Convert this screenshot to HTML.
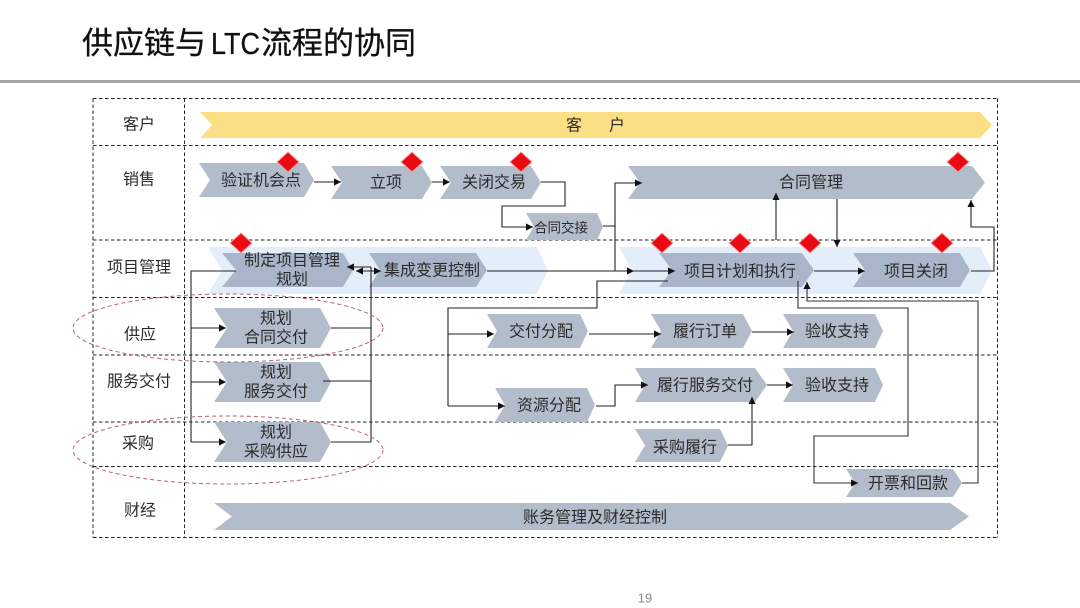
<!DOCTYPE html>
<html lang="zh-CN">
<head>
<meta charset="utf-8">
<title>供应链与LTC流程的协同</title>
<style>
html,body{margin:0;padding:0;background:#fff;width:1080px;height:608px;overflow:hidden}
svg{display:block;filter:blur(0.3px)}
text{font-family:"Liberation Sans","Noto Sans CJK SC",sans-serif;fill:#2b2b2b;font-size:16px;text-anchor:middle;dominant-baseline:central;transform:translateY(1px)}
.small{font-size:13.5px}
.grid line{stroke:#222;stroke-width:1;stroke-dasharray:3.5 2.5;fill:none}
.c{fill:#b3bccb}
.d{fill:#a9b6ca}
.l{fill:#e3eefa}
.k{fill:#ea0a14;stroke:#f7a0a0;stroke-width:1}
.w path{fill:none;stroke:#222;stroke-width:1.1}
.a{marker-end:url(#ar)}
</style>
</head>
<body>
<svg width="1080" height="608" viewBox="0 0 1080 608" xmlns="http://www.w3.org/2000/svg">
<defs>
<marker id="ar" markerUnits="userSpaceOnUse" markerWidth="8" markerHeight="8" refX="7" refY="4" orient="auto"><path d="M0,0.4 L7,4 L0,7.6 Z" fill="#111"/></marker>
<marker id="as" markerUnits="userSpaceOnUse" markerWidth="8" markerHeight="8" refX="7" refY="4" orient="auto-start-reverse"><path d="M0,0.4 L7,4 L0,7.6 Z" fill="#111"/></marker>
</defs>

<text x="82" y="54" style="font-size:31px;text-anchor:start;dominant-baseline:auto;fill:#111;transform:none;stroke:#111;stroke-width:0.3px"><tspan x="82">供应链与</tspan><tspan x="211" textLength="49" lengthAdjust="spacingAndGlyphs">LTC</tspan><tspan x="261">流程的协同</tspan></text>
<rect x="0" y="80" width="1080" height="3" fill="#a4a6a6"/>

<!-- light bands -->
<polygon class="l" points="208,247 537,247 548,270.5 537,294 208,294 222,270.5"/>
<polygon class="l" points="619,247 980,247 992,270.5 980,294 619,294 632,270.5"/>

<!-- grid -->
<g class="grid">
<line x1="93" y1="98.5" x2="997.5" y2="98.5"/>
<line x1="93" y1="145.5" x2="997.5" y2="145.5"/>
<line x1="93" y1="240" x2="997.5" y2="240"/>
<line x1="93" y1="297.5" x2="997.5" y2="297.5"/>
<line x1="93" y1="355" x2="997.5" y2="355"/>
<line x1="93" y1="422" x2="997.5" y2="422"/>
<line x1="93" y1="466.5" x2="997.5" y2="466.5"/>
<line x1="93" y1="537.5" x2="997.5" y2="537.5"/>
<line x1="93" y1="98.5" x2="93" y2="537.5"/>
<line x1="184.5" y1="98.5" x2="184.5" y2="537.5"/>
<line x1="997.5" y1="98.5" x2="997.5" y2="537.5"/>
</g>

<!-- chevrons -->
<polygon points="200,112 980,112 992,125 980,138 200,138 212,125" fill="#fbdf85"/>
<polygon class="c" points="199,163 304,163 314,180 304,197 199,197 210,180"/>
<polygon class="c" points="331,166 422,166 432,182.5 422,199 331,199 342,182.5"/>
<polygon class="c" points="440,166 531,166 541,182.5 531,199 440,199 451,182.5"/>
<polygon class="c" points="526,213 597,213 603,226.5 597,240 526,240 534,226.5"/>
<polygon class="c" points="628,166 972,166 985,182.5 972,199 628,199 640,182.5"/>
<polygon class="d" points="222,253 343,253 353,270 343,287 222,287 236,270"/>
<polygon class="d" points="369,253 476,253 487,270 476,287 369,287 380,270"/>
<polygon class="d" points="659,253 802,253 814,270 802,287 659,287 672,270"/>
<polygon class="d" points="853,253 960,253 970,270 960,287 853,287 865,270"/>
<polygon class="c" points="214,308 320,308 331,328 320,348 214,348 227,328"/>
<polygon class="c" points="214,362 320,362 331,382 320,402 214,402 227,382"/>
<polygon class="c" points="214,422 320,422 331,442 320,462 214,462 227,442"/>
<polygon class="c" points="487,314 580,314 588,331 580,348 487,348 497,331"/>
<polygon class="c" points="651,314 743,314 752,331 743,348 651,348 661,331"/>
<polygon class="c" points="783,314 875,314 883,331 875,348 783,348 793,331"/>
<polygon class="c" points="635,368 755,368 767,385 755,402 635,402 645,385"/>
<polygon class="c" points="783,368 875,368 883,385 875,402 783,402 793,385"/>
<polygon class="c" points="495,388 587,388 595,405 587,422 495,422 505,405"/>
<polygon class="c" points="635,429 720,429 728,445.5 720,462 635,462 645,445.5"/>
<polygon class="c" points="846,469 953,469 962,483 953,497 846,497 855,483"/>
<polygon class="c" points="214,503 950,503 969,516.5 950,530 214,530 232,516.5"/>

<!-- connectors -->
<g class="w">
<path class="a" d="M314,182H341"/>
<path class="a" d="M432,182H450"/>
<path class="a" d="M541,182H565V206H502V227H533"/>
<path class="a" d="M603,226H615V183H642"/>
<path d="M615,226V271"/>
<path class="a" d="M487,271H634"/>
<path class="a" d="M634,271H675"/>
<path class="a" d="M776,240V193"/>
<path class="a" d="M837,199V247"/>
<path class="a" d="M814,271H865"/>
<path class="a" d="M971,271H994V227H971V200"/>
<path d="M668,281H597V308H448V406"/>
<path class="a" d="M448,334H494"/>
<path class="a" d="M448,406H505"/>
<path d="M236,271H191V442"/>
<path class="a" d="M191,328H226"/>
<path class="a" d="M191,382H226"/>
<path class="a" d="M191,442H226"/>
<path class="a" d="M371,267H347"/>
<path d="M371,267V442H331"/>
<path d="M331,328H371"/>
<path d="M323,381H371"/>
<path d="M356,271H381" marker-start="url(#as)" marker-end="url(#as)"/>
<path class="a" d="M589,334H661"/>
<path class="a" d="M752,332H794"/>
<path class="a" d="M596,406H615V385H648"/>
<path class="a" d="M767,385H793"/>
<path class="a" d="M728,445H752V397"/>
<path class="a" d="M798,281V308H908V436H814V483H858" style="stroke:#333"/>
<path class="a" d="M962,483H978V301H807V282" style="stroke:#333"/>
</g>

<!-- ellipses -->
<ellipse cx="228" cy="328" rx="155" ry="34" fill="none" stroke="#b9666a" stroke-width="1" stroke-dasharray="4 3"/>
<ellipse cx="228" cy="450" rx="155" ry="34" fill="none" stroke="#b9666a" stroke-width="1" stroke-dasharray="4 3"/>

<!-- diamonds -->
<polygon class="k" points="288,152 299,162 288,172 277,162"/>
<polygon class="k" points="412,152 423,162 412,172 401,162"/>
<polygon class="k" points="521,152 532,162 521,172 510,162"/>
<polygon class="k" points="958,152 969,162 958,172 947,162"/>
<polygon class="k" points="241,233 252,243 241,253 230,243"/>
<polygon class="k" points="662,233 673,243 662,253 651,243"/>
<polygon class="k" points="740,233 751,243 740,253 729,243"/>
<polygon class="k" points="810,233 821,243 810,253 799,243"/>
<polygon class="k" points="942,233 953,243 942,253 931,243"/>

<!-- row labels -->
<text x="139" y="124">客户</text>
<text x="139" y="179">销售</text>
<text x="139" y="267">项目管理</text>
<text x="140" y="334">供应</text>
<text x="139" y="381">服务交付</text>
<text x="138" y="443">采购</text>
<text x="140" y="510">财经</text>

<!-- node labels -->
<text x="574" y="125">客</text>
<text x="617" y="125">户</text>
<text x="261" y="180">验证机会点</text>
<text x="386" y="182">立项</text>
<text x="494" y="182">关闭交易</text>
<text x="561" y="227" class="small">合同交接</text>
<text x="811" y="182">合同管理</text>
<text x="292" y="260">制定项目管理</text>
<text x="292" y="279">规划</text>
<text x="432" y="270">集成变更控制</text>
<text x="740" y="271">项目计划和执行</text>
<text x="916" y="271">项目关闭</text>
<text x="276" y="318">规划</text>
<text x="276" y="337">合同交付</text>
<text x="276" y="372">规划</text>
<text x="276" y="391">服务交付</text>
<text x="276" y="432">规划</text>
<text x="276" y="451">采购供应</text>
<text x="541" y="331">交付分配</text>
<text x="705" y="331">履行订单</text>
<text x="837" y="331">验收支持</text>
<text x="705" y="385">履行服务交付</text>
<text x="837" y="385">验收支持</text>
<text x="549" y="405">资源分配</text>
<text x="685" y="447">采购履行</text>
<text x="908" y="483">开票和回款</text>
<text x="595" y="517">账务管理及财经控制</text>

<text x="645" y="597" style="font-size:13px;fill:#8a8a8a">19</text>
</svg>
</body>
</html>
